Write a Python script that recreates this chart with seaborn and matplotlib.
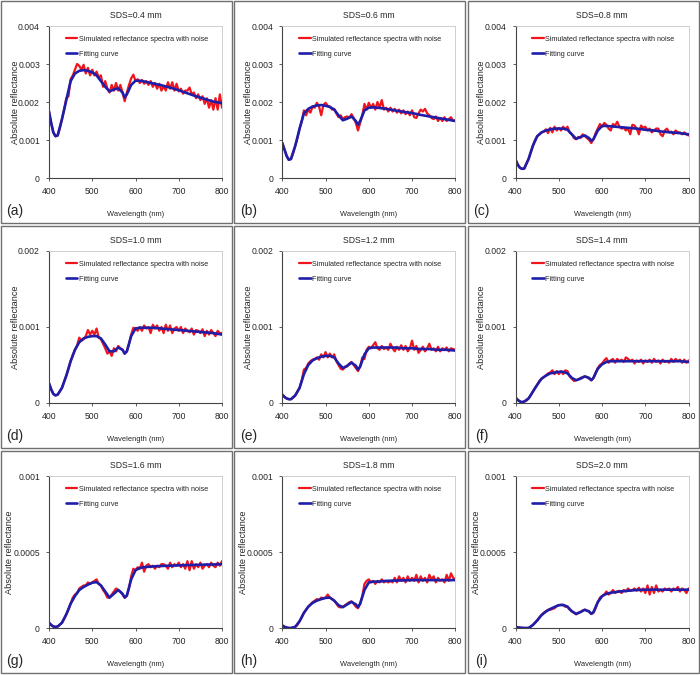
import numpy as np
import pandas as pd
import seaborn as sns
import matplotlib.pyplot as plt
from matplotlib.patches import Rectangle

# wavelength grids (nm)
wl_fit = [400, 405, 410, 415, 420, 430, 440, 450, 460, 470, 480, 490, 500, 510, 520,
          530, 540, 550, 560, 570, 575, 580, 590, 600, 610, 620, 640, 660, 680, 700,
          720, 740, 760, 780, 800]
wl_noise = list(range(400, 805, 5))

titles = ['SDS=0.4 mm', 'SDS=0.6 mm', 'SDS=0.8 mm',
          'SDS=1.0 mm', 'SDS=1.2 mm', 'SDS=1.4 mm',
          'SDS=1.6 mm', 'SDS=1.8 mm', 'SDS=2.0 mm']
letters = ['(a)', '(b)', '(c)', '(d)', '(e)', '(f)', '(g)', '(h)', '(i)']

# y limits and tick labels per row
row_ymax = [0.004, 0.002, 0.001]
row_yticks = [[0, 0.001, 0.002, 0.003, 0.004], [0, 0.001, 0.002], [0, 0.0005, 0.001]]
row_yticklabels = [['0', '0.001', '0.002', '0.003', '0.004'],
                   ['0', '0.001', '0.002'],
                   ['0', '0.0005', '0.001']]

# values in units of 1e-3 absolute reflectance
fit_a = [1.75, 1.45, 1.2, 1.1, 1.12, 1.55, 2.05, 2.55, 2.75, 2.82, 2.84, 2.82, 2.78, 2.7, 2.55,
         2.4, 2.28, 2.33, 2.36, 2.25, 2.12, 2.2, 2.45, 2.56, 2.56, 2.54, 2.49, 2.44, 2.38, 2.31,
         2.23, 2.15, 2.08, 2.01, 1.97]
noise_a = [1.75, 1.45, 1.2, 1.1, 1.12, 1.3, 1.55, 1.8, 2.1, 2.15,
           2.6, 2.7, 2.85, 3.0, 2.95, 2.85, 2.98, 2.75, 2.9, 2.7,
           2.85, 2.7, 2.8, 2.65, 2.7, 2.4, 2.55, 2.35, 2.25, 2.45,
           2.3, 2.5, 2.3, 2.45, 2.25, 2.02, 2.25, 2.45, 2.62, 2.72,
           2.55, 2.6, 2.5, 2.58, 2.48, 2.55, 2.45, 2.55, 2.4, 2.5,
           2.35, 2.48, 2.3, 2.42, 2.3, 2.52, 2.35, 2.52, 2.3, 2.48,
           2.28, 2.35, 2.22, 2.3, 2.3, 2.38, 2.2, 2.25, 2.1, 2.2,
           2.05, 2.15, 1.95, 2.1, 1.85, 2.05, 1.8, 2.1, 1.8, 2.2,
           1.85]

fit_b = [0.92, 0.75, 0.58, 0.48, 0.5, 0.85, 1.3, 1.7, 1.82, 1.88, 1.91, 1.92, 1.9, 1.87, 1.8,
         1.65, 1.52, 1.56, 1.62, 1.5, 1.4, 1.5, 1.78, 1.85, 1.86, 1.85, 1.82, 1.78, 1.74, 1.71,
         1.66, 1.62, 1.58, 1.54, 1.5]
noise_b = [0.92, 0.75, 0.58, 0.48, 0.5, 0.65, 0.85, 1.05, 1.3, 1.5,
           1.78, 1.65, 1.8, 1.72, 1.88, 1.85, 1.98, 1.88, 1.65, 1.92,
           1.98, 1.9, 1.88, 1.8, 1.82, 1.7, 1.6, 1.65, 1.55, 1.6,
           1.62, 1.58, 1.68, 1.58, 1.45, 1.25, 1.45, 1.65, 1.95, 1.8,
           1.98, 1.85, 1.95, 1.8, 2.0, 1.85, 2.05, 1.8, 1.85, 1.75,
           1.85, 1.75, 1.82, 1.72, 1.8, 1.7, 1.78, 1.68, 1.75, 1.65,
           1.78, 1.6, 1.58, 1.7, 1.8, 1.75, 1.82, 1.7, 1.65, 1.58,
           1.55, 1.62, 1.5, 1.58, 1.5, 1.6, 1.5, 1.55, 1.6, 1.5,
           1.52]

fit_c = [0.48, 0.35, 0.27, 0.24, 0.25, 0.5, 0.85, 1.1, 1.2, 1.25, 1.28, 1.3, 1.3, 1.3, 1.27,
         1.15, 1.03, 1.08, 1.12, 1.05, 0.98, 1.02, 1.25, 1.37, 1.37, 1.36, 1.34, 1.32, 1.3, 1.27,
         1.25, 1.22, 1.2, 1.18, 1.15]
noise_c = [0.48, 0.35, 0.27, 0.24, 0.25, 0.38, 0.5, 0.68, 0.85, 1.0,
           1.1, 1.15, 1.2, 1.22, 1.28, 1.18, 1.32, 1.2, 1.35, 1.25,
           1.32, 1.25, 1.35, 1.28, 1.35, 1.2, 1.15, 1.05, 1.02, 1.08,
           1.05, 1.15, 1.1, 1.05, 1.0, 0.92, 1.02, 1.18, 1.3, 1.42,
           1.35, 1.45, 1.4, 1.3, 1.25, 1.42, 1.38, 1.48, 1.35, 1.3,
           1.32, 1.25, 1.3, 1.15, 1.4, 1.38, 1.3, 1.15, 1.38, 1.32,
           1.35, 1.25, 1.3, 1.2, 1.25, 1.3, 1.3, 1.15, 1.1, 1.25,
           1.3, 1.2, 1.22, 1.15, 1.25, 1.2, 1.2, 1.15, 1.2, 1.15,
           1.12]

fit_d = [0.26, 0.18, 0.12, 0.1, 0.11, 0.2, 0.36, 0.55, 0.7, 0.8, 0.85, 0.87, 0.88, 0.88, 0.85,
         0.77, 0.68, 0.68, 0.73, 0.7, 0.65, 0.68, 0.88, 0.98, 0.99, 0.99, 0.99, 0.98, 0.97, 0.96,
         0.95, 0.94, 0.93, 0.92, 0.9]
noise_d = [0.26, 0.18, 0.12, 0.1, 0.11, 0.15, 0.2, 0.28, 0.36, 0.45,
           0.55, 0.63, 0.7, 0.76, 0.86, 0.82, 0.84, 0.88, 0.96, 0.9,
           0.95, 0.9, 0.98, 0.86, 0.84, 0.78, 0.72, 0.65, 0.68, 0.62,
           0.72, 0.68, 0.75, 0.72, 0.7, 0.65, 0.68, 0.78, 0.9, 0.99,
           0.98, 0.95, 1.0, 0.95, 1.02, 0.98, 1.0, 0.92, 1.03, 0.98,
           1.02, 0.95, 1.0, 0.92, 1.03, 0.95, 1.02, 0.92, 0.98, 1.0,
           0.95, 1.0, 0.92, 0.98, 0.95, 0.93, 0.98, 0.9, 0.96, 0.95,
           0.92, 0.97, 0.88, 0.95, 0.9, 0.96, 0.92, 0.88, 0.95, 0.92,
           0.92]

fit_e = [0.11, 0.08, 0.06, 0.05, 0.05, 0.1, 0.2, 0.38, 0.5, 0.56, 0.59, 0.61, 0.62, 0.62, 0.6,
         0.52, 0.46, 0.49, 0.53, 0.49, 0.44, 0.48, 0.64, 0.72, 0.73, 0.73, 0.73, 0.73, 0.72, 0.72,
         0.71, 0.71, 0.7, 0.7, 0.69]
noise_e = [0.11, 0.08, 0.06, 0.05, 0.05, 0.07, 0.1, 0.15, 0.2, 0.3,
           0.44, 0.46, 0.52, 0.55, 0.57, 0.58, 0.6, 0.57, 0.64, 0.6,
           0.67, 0.6, 0.65, 0.6, 0.64, 0.55, 0.5, 0.45, 0.44, 0.47,
           0.48, 0.52, 0.54, 0.5, 0.46, 0.42, 0.48, 0.6, 0.58, 0.7,
           0.74, 0.72, 0.76, 0.8, 0.72, 0.7, 0.75, 0.71, 0.73, 0.7,
           0.78, 0.72, 0.68, 0.74, 0.7, 0.76, 0.7, 0.75, 0.68, 0.72,
           0.82, 0.7, 0.75, 0.66, 0.7, 0.74, 0.68, 0.72, 0.78, 0.7,
           0.72, 0.68, 0.74, 0.68, 0.72, 0.7, 0.73, 0.68, 0.72, 0.71,
           0.7]

fit_f = [0.07, 0.04, 0.02, 0.01, 0.02, 0.06, 0.15, 0.24, 0.32, 0.36, 0.39, 0.4, 0.41, 0.41, 0.39,
         0.33, 0.3, 0.32, 0.35, 0.33, 0.3, 0.33, 0.45, 0.51, 0.54, 0.55, 0.55, 0.55, 0.55, 0.55,
         0.55, 0.55, 0.55, 0.55, 0.54]
noise_f = [0.07, 0.04, 0.02, 0.01, 0.02, 0.03, 0.06, 0.1, 0.15, 0.2,
           0.24, 0.29, 0.32, 0.34, 0.36, 0.39, 0.4, 0.43, 0.38, 0.42,
           0.38, 0.42, 0.38, 0.43, 0.42, 0.35, 0.32, 0.29, 0.3, 0.31,
           0.33, 0.34, 0.35, 0.34, 0.32, 0.3, 0.33, 0.4, 0.46, 0.5,
           0.52, 0.56, 0.59, 0.53, 0.56, 0.58, 0.53, 0.58, 0.55, 0.57,
           0.54, 0.6, 0.58, 0.55, 0.57, 0.52, 0.56, 0.54, 0.57, 0.52,
           0.56, 0.54, 0.57, 0.53, 0.58, 0.54, 0.56, 0.52, 0.57, 0.54,
           0.55, 0.53, 0.58, 0.54, 0.58, 0.55, 0.57, 0.53, 0.57, 0.53,
           0.56]

fit_g = [0.035, 0.02, 0.01, 0.007, 0.01, 0.035, 0.09, 0.16, 0.21, 0.25, 0.27, 0.285, 0.298, 0.302, 0.28,
         0.24, 0.2, 0.225, 0.25, 0.225, 0.2, 0.215, 0.32, 0.38, 0.395, 0.4, 0.405, 0.408, 0.41, 0.412,
         0.414, 0.415, 0.417, 0.418, 0.42]
noise_g = [0.035, 0.02, 0.01, 0.007, 0.01, 0.02, 0.035, 0.06, 0.09, 0.12,
           0.16, 0.2, 0.22, 0.23, 0.26, 0.27, 0.28, 0.28, 0.3, 0.29,
           0.3, 0.31, 0.32, 0.29, 0.28, 0.25, 0.23, 0.2, 0.2, 0.22,
           0.24, 0.26, 0.25, 0.24, 0.22, 0.2, 0.21, 0.26, 0.34, 0.39,
           0.38, 0.4, 0.39, 0.43, 0.37, 0.41, 0.42, 0.4, 0.41, 0.39,
           0.41, 0.4, 0.42, 0.42, 0.41, 0.39, 0.43, 0.4, 0.42, 0.41,
           0.43, 0.4, 0.42, 0.39, 0.44, 0.38, 0.44, 0.39, 0.42, 0.4,
           0.43, 0.39, 0.41, 0.42, 0.4, 0.43, 0.41, 0.4, 0.43, 0.41,
           0.44]

fit_h = [0.017, 0.008, 0.003, 0.0, 0.0, 0.008, 0.045, 0.1, 0.14, 0.165, 0.18, 0.19, 0.198, 0.2, 0.18,
         0.15, 0.137, 0.155, 0.172, 0.155, 0.138, 0.16, 0.25, 0.3, 0.305, 0.305, 0.31, 0.312, 0.313, 0.315,
         0.315, 0.315, 0.315, 0.315, 0.315]
noise_h = [0.017, 0.008, 0.003, 0.0, 0.0, 0.003, 0.008, 0.02, 0.045, 0.07,
           0.1, 0.12, 0.14, 0.155, 0.17, 0.18, 0.19, 0.185, 0.2, 0.195,
           0.2, 0.22, 0.2, 0.19, 0.18, 0.16, 0.14, 0.135, 0.14, 0.15,
           0.16, 0.17, 0.175, 0.16, 0.14, 0.13, 0.16, 0.21, 0.29, 0.31,
           0.32, 0.3, 0.31, 0.29, 0.31, 0.3, 0.32, 0.3, 0.31, 0.3,
           0.31, 0.3, 0.33, 0.3, 0.34, 0.31, 0.33, 0.3, 0.34, 0.31,
           0.33, 0.31, 0.35, 0.3, 0.34, 0.31, 0.33, 0.3, 0.35, 0.32,
           0.34, 0.3, 0.33, 0.31, 0.32, 0.3, 0.35, 0.31, 0.36, 0.33,
           0.32]

fit_i = [0.006, 0.004, 0.002, 0.001, 0.0, 0.0, 0.02, 0.05, 0.085, 0.108, 0.125, 0.138, 0.15, 0.152, 0.14,
         0.11, 0.093, 0.105, 0.12, 0.108, 0.093, 0.105, 0.17, 0.21, 0.225, 0.232, 0.24, 0.245, 0.25, 0.252,
         0.252, 0.252, 0.252, 0.252, 0.252]
noise_i = [0.006, 0.004, 0.002, 0.001, 0.0, 0.0, 0.0, 0.008, 0.02, 0.035,
           0.05, 0.07, 0.085, 0.1, 0.11, 0.12, 0.12, 0.125, 0.13, 0.145,
           0.15, 0.153, 0.15, 0.14, 0.14, 0.12, 0.11, 0.1, 0.09, 0.1,
           0.105, 0.115, 0.12, 0.115, 0.108, 0.093, 0.1, 0.13, 0.17, 0.2,
           0.21, 0.22, 0.24, 0.22, 0.23, 0.25, 0.23, 0.24, 0.245, 0.23,
           0.25, 0.24, 0.26, 0.245, 0.25, 0.26, 0.245, 0.265, 0.24, 0.26,
           0.23, 0.28, 0.22, 0.27, 0.23, 0.28, 0.24, 0.25, 0.24, 0.26,
           0.25, 0.26, 0.24, 0.26, 0.25, 0.27, 0.24, 0.26, 0.25, 0.23,
           0.26]

fits = [fit_a, fit_b, fit_c, fit_d, fit_e, fit_f, fit_g, fit_h, fit_i]
noises = [noise_a, noise_b, noise_c, noise_d, noise_e, noise_f, noise_g, noise_h, noise_i]
SCALE = 1e-3

RED = '#f0141c'
BLUE = '#1e1eaa'

sns.set_style('white')
plt.rcParams['font.family'] = ['Liberation Sans', 'DejaVu Sans']

W, H = 700, 675
fig = plt.figure(figsize=(7.0, 6.75), dpi=100)

# y label position per row (bottom row has wider tick labels)
ylabel_x = [-0.17, -0.17, -0.2]

col_w, row_h = 233.3, 225
for k in range(9):
    r, c = divmod(k, 3)
    x0 = c * col_w
    y0 = r * row_h
    # grey frame around each panel
    fig.patches.append(Rectangle(((x0 + 1) / W, 1 - (y0 + 223) / H), 231 / W, 222 / H,
                                 transform=fig.transFigure, fill=False,
                                 edgecolor='#707070', linewidth=1.0))
    ax = fig.add_axes([(x0 + 49) / W, 1 - (y0 + 178) / H, 173 / W, 152 / H])

    df_n = pd.DataFrame({'wl': wl_noise, 'R': np.array(noises[k]) * SCALE})
    df_f = pd.DataFrame({'wl': wl_fit, 'R': np.array(fits[k]) * SCALE})
    sns.lineplot(data=df_n, x='wl', y='R', ax=ax, color=RED, linewidth=1.6,
                 label='Simulated reflectance spectra with noise')
    sns.lineplot(data=df_f, x='wl', y='R', ax=ax, color=BLUE, linewidth=1.9,
                 label='Fitting curve')

    ax.set_xlim(400, 800)
    ax.set_ylim(0, row_ymax[r])
    ax.set_xticks([400, 500, 600, 700, 800])
    ax.set_xticklabels(['400', '500', '600', '700', '800'])
    ax.set_yticks(row_yticks[r])
    ax.set_yticklabels(row_yticklabels[r])
    ax.tick_params(axis='both', labelsize=6.2, length=2.5, width=0.6, color='#444444',
                   direction='out', pad=4, bottom=True, left=True)
    ax.set_xlabel('Wavelength (nm)', fontsize=5.4)
    ax.xaxis.set_label_coords(0.5, -0.215)
    ax.set_ylabel('Absolute reflectance', fontsize=6.6)
    ax.yaxis.set_label_coords(ylabel_x[r], 0.5)
    ax.set_title(titles[k], fontsize=6.2, pad=6)
    for side in ['left', 'bottom']:
        ax.spines[side].set_color('#444444')
        ax.spines[side].set_linewidth(0.8)
    for side in ['top', 'right']:
        ax.spines[side].set_color('#c8c8c8')
        ax.spines[side].set_linewidth(0.6)

    leg = ax.legend(loc='upper left', bbox_to_anchor=(0.06, 0.98), frameon=False,
                    fontsize=5.2, handlelength=1.6, handletextpad=0.2, labelspacing=1.1)

    fig.text((x0 + 15) / W, 1 - (y0 + 211) / H, letters[k], fontsize=10,
             ha='center', va='center')

fig.savefig('out.png', dpi=100)
